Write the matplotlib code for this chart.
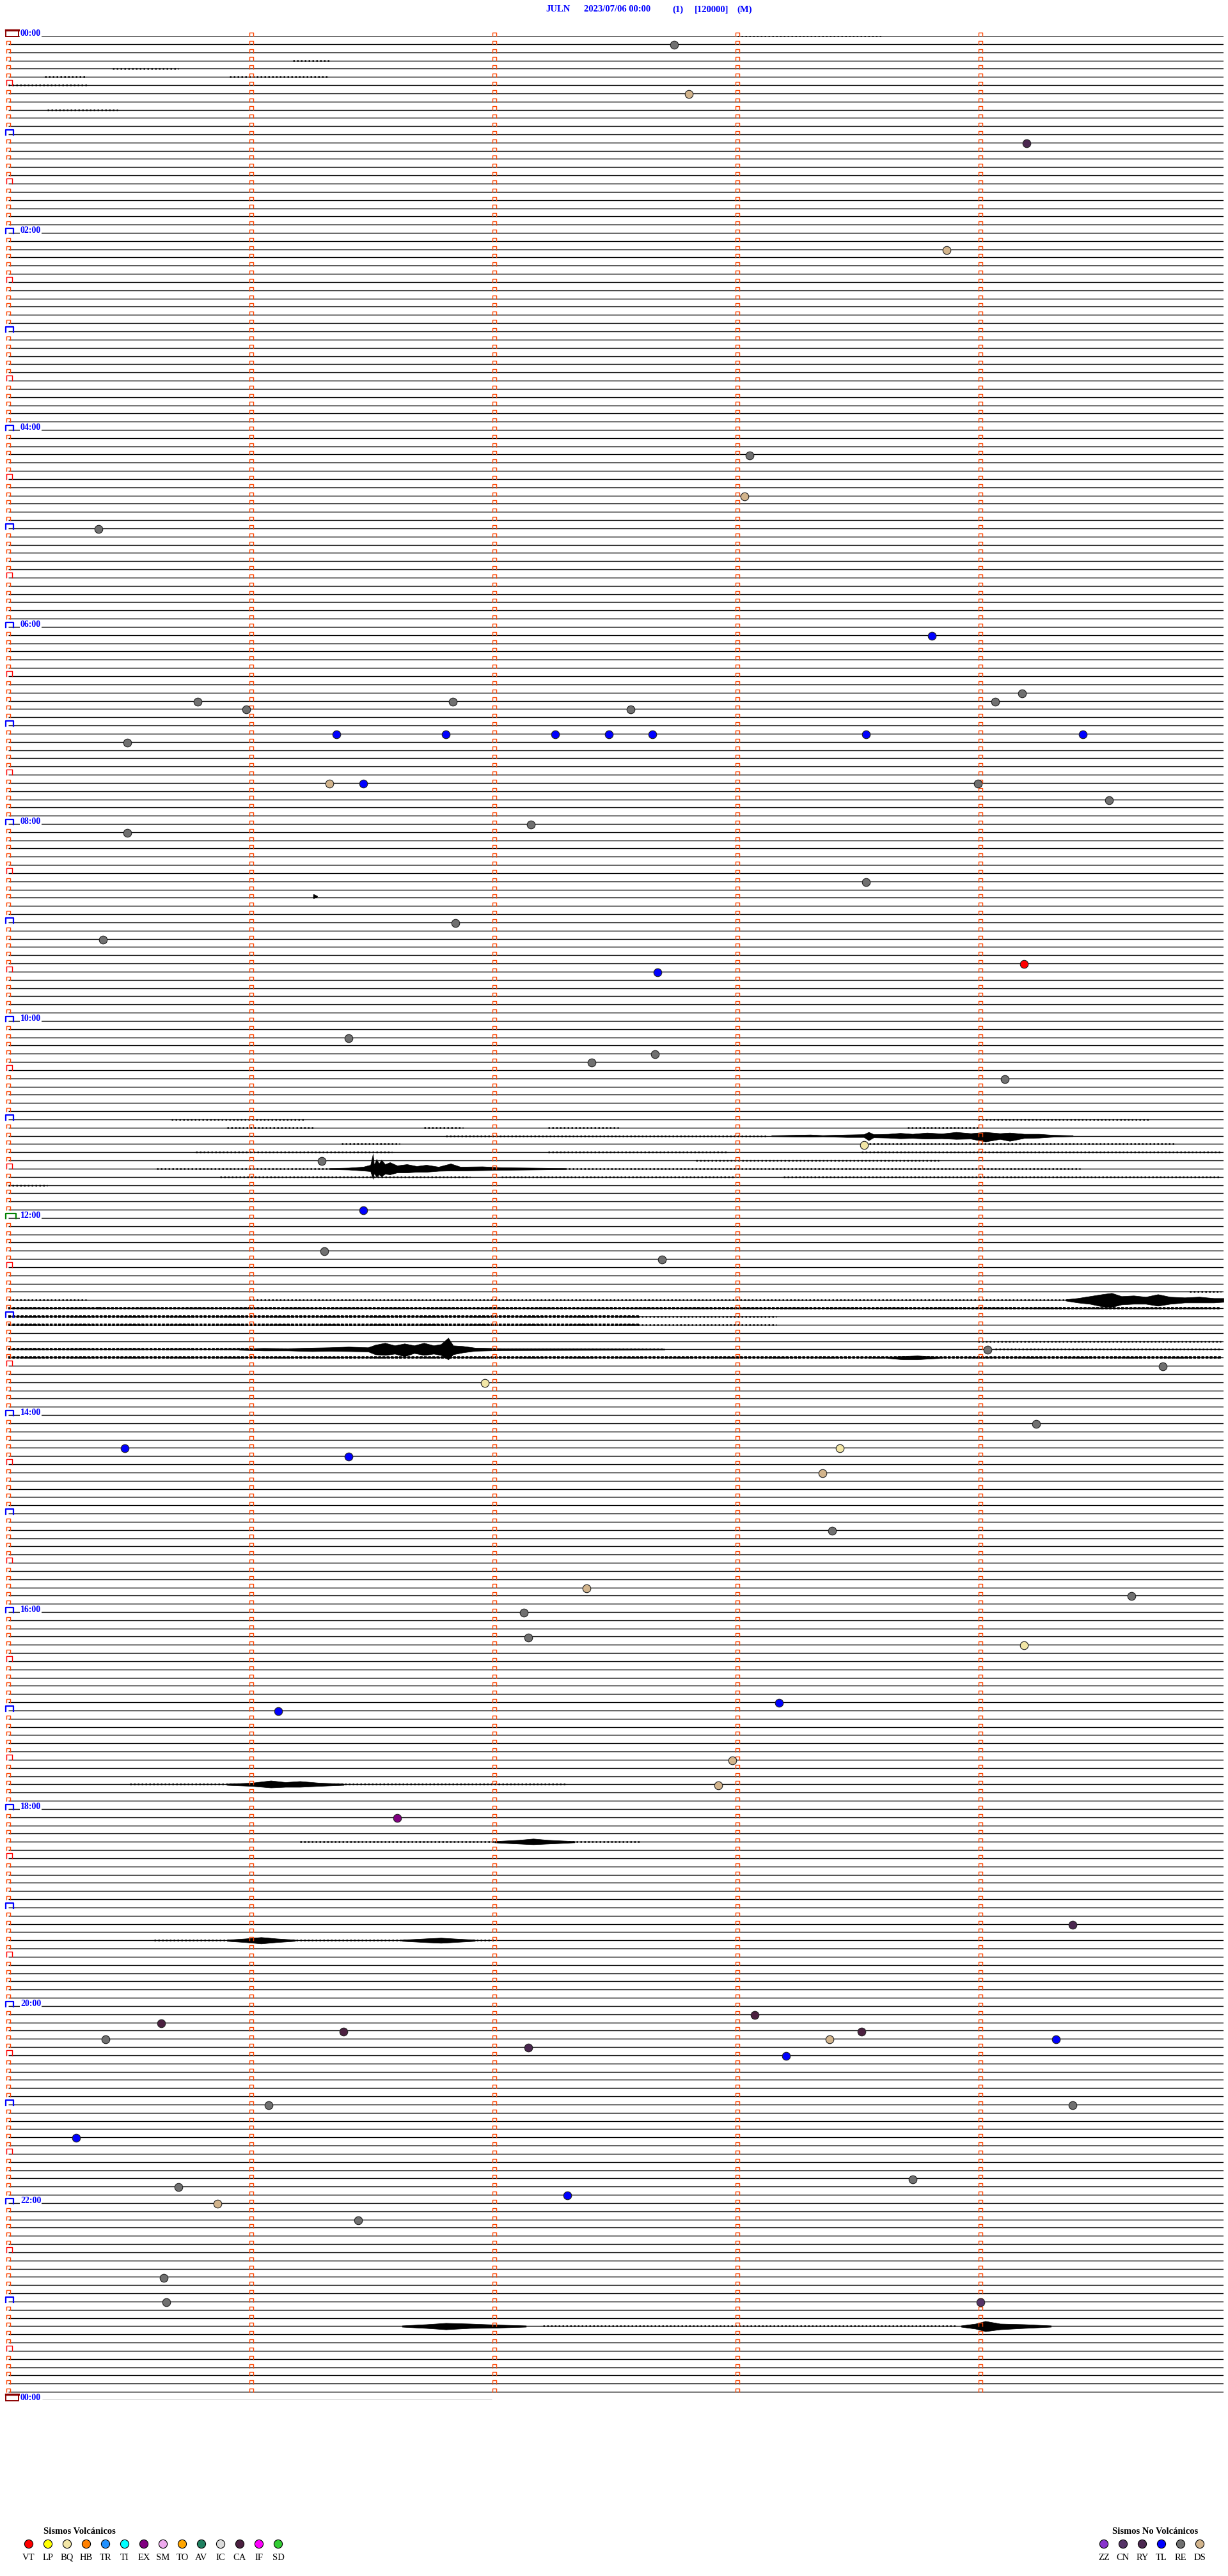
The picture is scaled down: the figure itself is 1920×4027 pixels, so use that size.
import matplotlib
matplotlib.use("Agg")
import matplotlib.pyplot as plt
from matplotlib.path import Path
from matplotlib.patches import Rectangle

W, H = 1920, 4027
PX_LINE = 12.833      # pixels between two traces
PX_MIN = 380.0        # pixels per minute

# ---- header
station = "JULN"
date_txt = "2023/07/06 00:00"
extra_txt = ["(1)", "[120000]", "(M)"]

n_lines = 288          # 5-minute traces over 24 h
last_line_span = (0.14, 1.99)

# ---- event markers (trace index, minute inside trace, type)
marker_line = [1, 7, 13, 26, 51, 56, 60, 73, 80, 81, 81, 81, 82, 82, 86, 85, 85, 85, 85, 85,
               85, 85, 91, 91, 91, 93, 96, 97, 103, 108, 110, 114, 113, 122, 124, 125, 127,
               135, 137, 143, 148, 149, 160, 162, 164, 169, 172, 172, 173, 175, 182, 189, 190,
               192, 195, 196, 204, 203, 210, 213, 217, 230, 241, 242, 243, 243, 244, 244, 245,
               244, 246, 252, 252, 256, 261, 262, 263, 264, 266, 273, 276, 276]
marker_min = [2.74, 2.80, 4.19, 3.86, 3.05, 3.03, 0.37, 3.80, 4.17, 4.06, 0.78, 1.83, 0.98, 2.56,
              0.49, 1.35, 1.80, 2.25, 2.47, 2.65, 3.53, 4.42, 1.32, 1.46, 3.99, 4.53, 2.15, 0.49,
              3.53, 1.84, 0.39, 2.67, 4.18, 1.40, 2.66, 2.40, 4.10, 3.52, 1.29, 1.46, 1.30, 2.69,
              4.03, 4.75, 1.96, 4.23, 0.48, 3.42, 1.40, 3.35, 3.39, 2.38, 4.62, 2.12, 2.14, 4.18,
              1.11, 3.17, 2.98, 2.92, 1.60, 4.38, 3.07, 0.63, 1.38, 3.51, 0.40, 3.38, 2.14, 4.31,
              3.20, 1.07, 4.38, 0.28, 3.72, 0.70, 2.30, 0.86, 1.44, 0.64, 0.65, 4.00]
marker_type = ["RE", "DS", "RY", "DS", "RE", "DS", "RE", "TL", "RE", "RE", "RE", "RE", "RE", "RE",
               "RE", "TL", "TL", "TL", "TL", "TL", "TL", "TL", "DS", "TL", "RE", "RE", "RE", "RE",
               "RE", "RE", "RE", "TL", "VT", "RE", "RE", "RE", "RE", "BQ", "RE", "TL", "RE", "RE",
               "RE", "RE", "BQ", "RE", "TL", "BQ", "TL", "DS", "RE", "DS", "RE", "RE", "RE", "BQ",
               "TL", "TL", "DS", "DS", "EX", "RY", "CA", "CA", "CA", "CA", "RE", "DS", "RY", "TL",
               "TL", "RE", "RE", "TL", "RE", "RE", "TL", "DS", "RE", "RE", "RE", "CN"]

# ---- noisy stretches of trace (trace, start minute, end minute)
noise_line = [0, 3, 4, 5, 5, 6, 9, 132, 132, 133, 133, 133, 133, 134, 135, 135, 136, 136, 136,
              137, 138, 138, 139, 139, 139, 140, 153, 154, 154, 155, 156, 157, 159, 160, 160, 161,
              213, 220, 232, 279]
noise_start = [3.0, 1.17, 0.43, 0.15, 0.91, 0.0, 0.16, 0.67, 3.99, 0.90, 1.71, 2.22, 3.70, 1.80,
               1.37, 3.51, 0.77, 2.22, 3.51, 2.83, 0.61, 2.29, 0.87, 2.03, 3.19, 0.0, 4.86, 0.0,
               0.99, 0.0, 0.0, 0.0, 3.99, 0.0, 4.06, 0.0, 0.50, 1.20, 0.60, 2.20]
noise_end = [3.6, 1.32, 0.70, 0.32, 1.32, 0.33, 0.45, 1.22, 4.70, 1.26, 1.87, 2.51, 3.99, 3.12,
             1.61, 4.80, 1.58, 2.96, 4.99, 3.83, 1.32, 4.41, 1.90, 2.99, 4.99, 0.16, 4.99, 0.32,
             4.99, 4.99, 3.16, 3.16, 4.99, 2.70, 4.99, 4.99, 2.30, 2.60, 2.00, 3.90]
heavy_line = [155, 155, 156, 157, 160, 161]
heavy_start = [0.0, 0.37, 0.0, 0.0, 0.0, 0.0]
heavy_end = [0.37, 4.99, 2.60, 2.60, 1.00, 4.99]

# ---- larger signals: envelope points (minute, up px, down px)
event_line = [134, 138, 154, 160, 161, 213, 220, 232, 232, 279, 279]
event_env = [
    [(3.14, 0.7, 0.7), (3.30, 2, 1.5), (3.35, 1, 1), (3.45, 2, 2), (3.52, 2.5, 2), (3.54, 6, 7),
     (3.56, 2.5, 2.5), (3.62, 3, 3), (3.67, 4.5, 4), (3.72, 3, 3.5), (3.78, 5, 4.5), (3.84, 3.5, 4),
     (3.90, 6, 5), (3.96, 4, 4.5), (4.02, 6, 9), (4.08, 4, 5), (4.12, 5, 8), (4.18, 3, 3.5),
     (4.24, 3, 3), (4.30, 1.5, 1.5), (4.38, 0.7, 0.7)],
    [(1.32, 0.8, 0.8), (1.40, 1.5, 1.5), (1.46, 3, 3), (1.49, 6, 4), (1.50, 23, 16), (1.505, 6, 7),
     (1.515, 15, 13), (1.525, 8, 9), (1.535, 14, 12), (1.55, 7, 8), (1.57, 10, 9), (1.60, 5, 6),
     (1.64, 7, 6), (1.68, 4, 5), (1.72, 6, 5), (1.77, 3, 3.5), (1.82, 8, 3), (1.86, 3, 3),
     (1.95, 3.5, 2.5), (2.03, 2, 2), (2.15, 1.5, 1.5), (2.29, 0.8, 0.8)],
    [(4.35, 1, 1), (4.40, 3, 4), (4.45, 6, 6), (4.50, 9, 10), (4.54, 11, 11), (4.58, 6, 7),
     (4.63, 7, 6), (4.68, 5, 6), (4.73, 9, 9), (4.78, 5, 6), (4.84, 4, 4), (4.90, 5, 4),
     (4.96, 3, 4), (5.0, 3, 3)],
    [(0.95, 1, 1), (1.05, 2, 2), (1.15, 1.5, 2), (1.25, 2.5, 3), (1.32, 3, 2.5), (1.40, 4, 3),
     (1.48, 3, 3.5), (1.51, 7, 8), (1.55, 10, 9), (1.59, 6, 7), (1.63, 9, 11), (1.67, 6, 6),
     (1.71, 10, 9), (1.75, 6, 7), (1.78, 8, 9), (1.81, 18, 16), (1.83, 6, 8), (1.87, 5, 5),
     (1.92, 2.5, 2.5), (2.03, 1.5, 1.5), (2.70, 0.8, 0.8)],
    [(3.62, 1, 1), (3.68, 2, 3), (3.74, 3, 3), (3.78, 2, 2), (3.83, 1, 1)],
    [(0.90, 1, 1), (1.00, 2.5, 2.5), (1.08, 6, 5), (1.14, 3.5, 4), (1.20, 5, 4), (1.28, 2.5, 2.5),
     (1.38, 1, 1)],
    [(2.00, 1, 1), (2.10, 3, 3), (2.16, 5, 4), (2.22, 3, 3), (2.33, 1, 1)],
    [(0.90, 1, 1), (0.98, 3, 3), (1.04, 5, 5), (1.10, 3, 3), (1.18, 1, 1)],
    [(1.62, 1, 1), (1.72, 3, 3), (1.78, 4, 4), (1.85, 2.5, 2.5), (1.92, 1, 1)],
    [(1.62, 1, 1), (1.72, 3, 3), (1.80, 5, 5), (1.90, 4, 3), (2.00, 2.5, 2.5), (2.13, 1, 1)],
    [(3.92, 1, 1), (3.98, 4, 4), (4.02, 8, 8), (4.08, 4, 5), (4.18, 3, 3), (4.29, 1, 1)],
]

# ---- legends
volc_codes = ["VT", "LP", "BQ", "HB", "TR", "TI", "EX", "SM", "TO", "AV", "IC", "CA", "IF", "SD"]
volc_colors = ["#ff0000", "#ffff00", "#f2e6a6", "#ff8000", "#1e90ff", "#00ffff", "#800080",
               "#eeaaee", "#ffa500", "#1f8060", "#dcdcdc", "#4b2040", "#ff00ff", "#33cc33"]
novolc_codes = ["ZZ", "CN", "RY", "TL", "RE", "DS"]
novolc_colors = ["#8833cc", "#553366", "#4b2850", "#0000ff", "#707070", "#d2b48c"]

color_of = dict(zip(volc_codes + novolc_codes, volc_colors + novolc_colors))

SERIF = ["Liberation Serif", "DejaVu Serif"]

fig = plt.figure(figsize=(W / 100, H / 100), dpi=100)
ax = fig.add_axes([13 / W, 1 - 3752 / H, 1900 / W, 3696 / H])
ax.set_xlim(0, 5)
ax.set_ylim(n_lines, 0)
ax.axis("off")


def px_x(p):
    return p / PX_MIN


def px_y(p):
    return p / PX_LINE


# traces
ax.hlines(range(n_lines), 0, 5, color="black", lw=1.0, zorder=2)
ax.hlines(n_lines, last_line_span[0], last_line_span[1], color="black", lw=1.0, zorder=2)
ax.hlines(noise_line, noise_start, noise_end, color="black", lw=1.8, ls=(0, (1.0, 1.4)),
          zorder=2)
ax.hlines(heavy_line, heavy_start, heavy_end, color="black", lw=2.6, ls=(0, (1.2, 0.6)),
          zorder=2)

for ln, env in zip(event_line, event_env):
    m = [e[0] for e in env]
    up = [ln - px_y(e[1]) for e in env]
    dn = [ln + px_y(e[2]) for e in env]
    ax.fill_between(m, up, dn, color="black", lw=0.5, zorder=3)

# minute ticks: small open-bottom boxes
tick_path = Path([(-0.5, -0.5), (-0.5, 0.5), (0.5, 0.5), (0.5, -0.5)],
                 [Path.MOVETO, Path.LINETO, Path.LINETO, Path.LINETO])
for k in range(5):
    rows = [i for i in range(n_lines) if k > 0 or i % 6 != 0]
    ax.plot([k] * len(rows), [r - px_y(2) for r in rows], ls="none", marker=tick_path,
            ms=4.2, mew=1.0, mec="#ff4500", mfc="none", clip_on=False, zorder=4)

# half-hour and hour boxes on the left
for i in range(0, n_lines + 1, 6):
    if i % 12 != 0:
        x0, x1 = px_x(-3), px_x(6)
        ax.plot([x0, x0, x1, x1], [i, i - px_y(8), i - px_y(8), i], color="#ff0000",
                lw=1.0, clip_on=False, zorder=4)
        continue
    if i % 288 == 0:
        ax.add_patch(Rectangle((px_x(-4), i - px_y(9)), px_x(20), px_y(10), fill=False,
                               ec="#8b0000", lw=1.4, clip_on=False, zorder=4))
        ax.plot([px_x(-4), px_x(16)], [i - px_y(9), i - px_y(9)], color="#8b0000", lw=2.4,
                clip_on=False, zorder=4)
    else:
        col = "#008000" if i == 144 else "#0000ff"
        x0, x1 = px_x(-4), px_x(8 if i != 144 else 12)
        ax.plot([x0, x0, x1, x1], [i + px_y(0.5), i - px_y(7), i - px_y(7), i + px_y(0.5)],
                color=col, lw=1.6, clip_on=False, zorder=4)
    if i % 24 == 0:
        ax.text(px_x(19), i, "%02d:00" % ((i // 12) % 24), color="#0000ff", fontsize=10,
                fontweight="bold", family=SERIF, ha="left", va="baseline", zorder=5,
                bbox=dict(facecolor="white", edgecolor="none", pad=0.6))

# classified events
for t in sorted(set(marker_type)):
    idx = [j for j, v in enumerate(marker_type) if v == t]
    ax.plot([marker_min[j] for j in idx], [marker_line[j] + px_y(1) for j in idx], ls="none",
            marker="o", ms=9, mfc=color_of[t], mec="#202020", mew=0.8, zorder=6)

# small black pointer
ax.plot([px_x(480)], [105 - px_y(2)], ls="none", marker=">", ms=4, color="black", zorder=6)

# ---- header and legend in pixel space
lay = fig.add_axes([0, 0, 1, 1])
lay.set_xlim(0, W)
lay.set_ylim(H, 0)
lay.axis("off")
lay.patch.set_alpha(0)

head = [station, date_txt] + extra_txt
head_x = [853, 913, 1051, 1086, 1152]
for s, x in zip(head, head_x):
    lay.text(x, 15, s, color="#0000ff", fontsize=10.5, fontweight="bold", family=SERIF,
             ha="left", va="center")

lay.text(124, 3957, "Sismos Volcánicos", fontsize=10.5, fontweight="bold", family=SERIF,
         ha="center", va="center")
vx = [45 + 30 * i for i in range(len(volc_codes))]
lay.scatter(vx, [3977] * len(vx), s=90, c=volc_colors, edgecolors="black", linewidths=0.8)
for x, c in zip(vx, volc_codes):
    lay.text(x, 3998, c, fontsize=10.5, family=SERIF, ha="center", va="center")

lay.text(1806, 3957, "Sismos No Volcánicos", fontsize=10.5, fontweight="bold", family=SERIF,
         ha="center", va="center")
nx = [1726 + 30 * i for i in range(len(novolc_codes))]
lay.scatter(nx, [3977] * len(nx), s=90, c=novolc_colors, edgecolors="black", linewidths=0.8)
for x, c in zip(nx, novolc_codes):
    lay.text(x, 3998, c, fontsize=10.5, family=SERIF, ha="center", va="center")

fig.savefig("out.png", dpi=100, facecolor="white")
